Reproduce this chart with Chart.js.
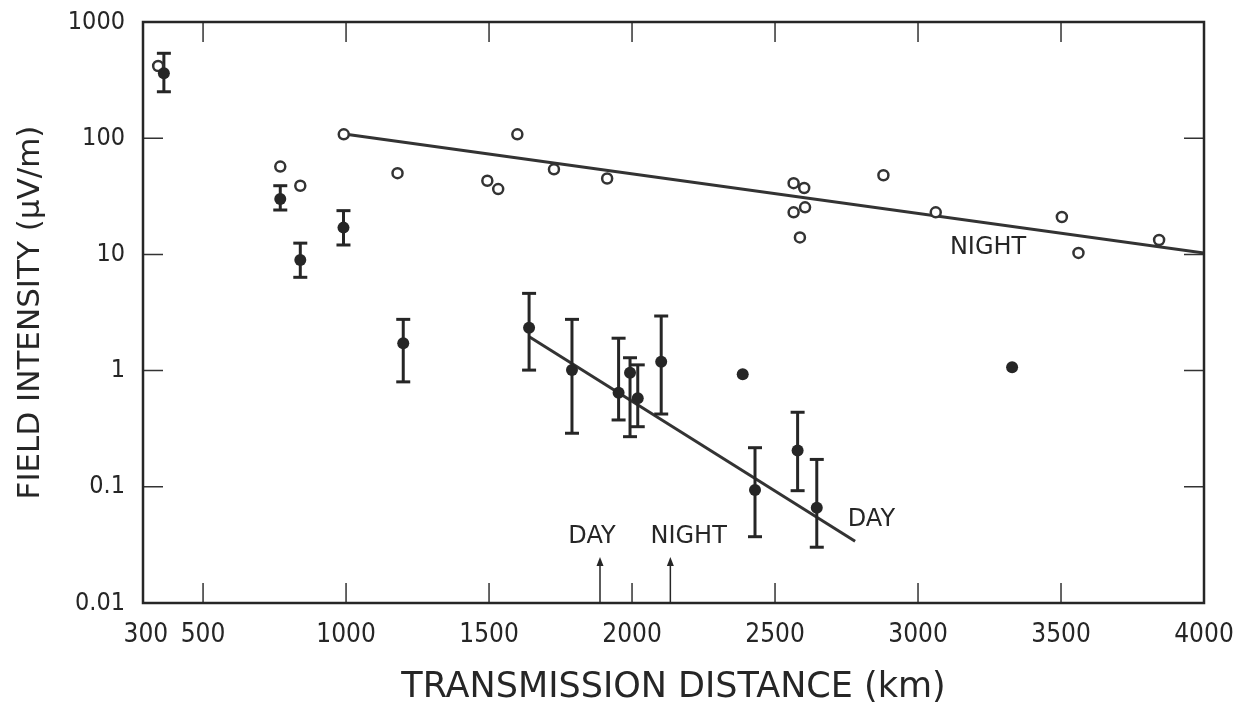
<!DOCTYPE html>
<html>
<head>
<meta charset="utf-8">
<script src="https://cdn.jsdelivr.net/npm/chart.js@4.4.0/dist/chart.umd.min.js"></script>
<style>
  html, body { margin: 0; padding: 0; background: #fff; }
  #wrap { width: 1245px; height: 720px; }
</style>
</head>
<body>
<div id="wrap"><canvas id="chart" width="1245" height="720"></canvas></div>
<script>
// open circles (night readings)
const nightDist = [343, 770, 840, 992, 1180, 1494, 1532, 1599, 1727, 1913, 2565, 2602, 2565, 2605, 2587, 2879, 3062, 3503, 3561, 3843];
const nightField = [418, 57, 39, 108, 50, 43, 36.5, 108, 54, 45, 41, 37.3, 23, 25.4, 14, 48, 23, 21, 10.3, 13.3];

// filled circles (day readings) with error bar limits
const dayDist = [363, 770, 840, 991, 1200, 1640, 1790, 1953, 1993, 2020, 2102, 2387, 2430, 2579, 2646, 3329];
const dayField = [362, 30, 8.95, 17, 1.72, 2.34, 1.01, 0.646, 0.96, 0.578, 1.19, 0.93, 0.0937, 0.205, 0.0661, 1.07];
const dayLow = [251, 24.1, 6.35, 12.05, 0.80, 1.01, 0.289, 0.376, 0.27, 0.329, 0.423, null, 0.0372, 0.0926, 0.0302, null];
const dayHigh = [538, 39, 12.5, 23.8, 2.76, 4.62, 2.76, 1.90, 1.29, 1.12, 2.95, null, 0.217, 0.438, 0.172, null];

// fitted lines
const nightFitDist = [1000, 4000];
const nightFitField = [108, 10.3];
const dayFitDist = [1642, 2780];
const dayFitField = [1.95, 0.034];

// axis ticks
const xTicks = [300, 500, 1000, 1500, 2000, 2500, 3000, 3500, 4000];
const xTickLabels = ['300', '500', '1000', '1500', '2000', '2500', '3000', '3500', '4000'];
const yTicks = [0.01, 0.1, 1, 10, 100, 1000];
const yTickLabels = ['0.01', '0.1', '1', '10', '100', '1000'];

// text labels on the plot
const noteTexts = ['NIGHT', 'DAY', 'DAY', 'NIGHT'];
const noteDist = [3245, 2837, 1860, 2198];
const noteField = [11.4, 0.0518, 0.0372, 0.0372];

// day/night transition arrows
const arrowDist = [1888, 2134];
const arrowTip = 0.0249;

const tickFont = "'Liberation Sans Narrow', 'DejaVu Sans Condensed', sans-serif";
const textFont = "'DejaVu Sans', sans-serif";
const ink = '#262626';

function toPoints(xs, ys) {
    return xs.map((x, i) => ({ x: x, y: ys[i] }));
}

const errorBars = dayDist.map((d, i) => {
    if (dayLow[i] == null) return null;
    return {
        data: [{ x: d, y: dayLow[i] }, { x: d, y: dayHigh[i] }],
        showLine: true,
        borderColor: ink,
        borderWidth: 3,
        pointStyle: 'line',
        pointRadius: 7,
        pointBorderWidth: 3,
        pointBorderColor: ink
    };
}).filter(Boolean);

// frame + inward ticks on all four sides, plus the text notes
const decorations = {
    id: 'decorations',
    afterDatasetsDraw(chart) {
        const { ctx, chartArea: a, scales: { x, y } } = chart;
        ctx.save();
        ctx.strokeStyle = '#333';
        ctx.lineWidth = 1.5;
        ctx.beginPath();
        xTicks.forEach(v => {
            if (v === xTicks[0] || v === xTicks[xTicks.length - 1]) return;
            const px = x.getPixelForValue(v);
            ctx.moveTo(px, a.bottom); ctx.lineTo(px, a.bottom - 20);
            ctx.moveTo(px, a.top); ctx.lineTo(px, a.top + 20);
        });
        yTicks.forEach(v => {
            if (v === yTicks[0] || v === yTicks[yTicks.length - 1]) return;
            const py = y.getPixelForValue(v);
            ctx.moveTo(a.left, py); ctx.lineTo(a.left + 20, py);
            ctx.moveTo(a.right, py); ctx.lineTo(a.right - 20, py);
        });
        ctx.stroke();

        ctx.lineWidth = 2.5;
        ctx.strokeStyle = ink;
        ctx.strokeRect(a.left, a.top, a.right - a.left, a.bottom - a.top);

        // arrows
        ctx.lineWidth = 1.5;
        ctx.fillStyle = ink;
        arrowDist.forEach(d => {
            const px = x.getPixelForValue(d);
            const tip = y.getPixelForValue(arrowTip);
            ctx.beginPath();
            ctx.moveTo(px, a.bottom);
            ctx.lineTo(px, tip + 4);
            ctx.stroke();
            ctx.beginPath();
            ctx.moveTo(px, tip);
            ctx.lineTo(px - 3.5, tip + 9);
            ctx.lineTo(px + 3.5, tip + 9);
            ctx.closePath();
            ctx.fill();
        });

        ctx.font = '24px ' + textFont;
        ctx.textAlign = 'center';
        ctx.textBaseline = 'middle';
        noteTexts.forEach((t, i) => {
            ctx.fillText(t, x.getPixelForValue(noteDist[i]), y.getPixelForValue(noteField[i]));
        });
        ctx.restore();
    }
};

const ctx = document.getElementById('chart').getContext('2d');
const chart = new Chart(ctx, {
    type: 'scatter',
    data: {
        datasets: [
            {
                data: toPoints(dayDist, dayField),
                backgroundColor: ink,
                borderColor: ink,
                pointRadius: 6,
                pointBorderWidth: 0
            },
            {
                data: toPoints(nightDist, nightField),
                backgroundColor: '#fff',
                borderColor: '#333',
                pointRadius: 5,
                pointBorderWidth: 2.5
            },
            ...errorBars,
            {
                data: toPoints(nightFitDist, nightFitField),
                showLine: true,
                borderColor: '#333',
                borderWidth: 3,
                pointRadius: 0
            },
            {
                data: toPoints(dayFitDist, dayFitField),
                showLine: true,
                borderColor: '#333',
                borderWidth: 3,
                pointRadius: 0
            }
        ]
    },
    options: {
        responsive: false,
        animation: false,
        layout: { padding: { left: 0, top: 22, right: 41, bottom: 0 } },
        plugins: {
            legend: { display: false },
            tooltip: { enabled: false }
        },
        scales: {
            x: {
                type: 'linear',
                min: 290,
                max: 4000,
                grid: { display: false, drawTicks: false },
                border: { display: false },
                afterBuildTicks: scale => { scale.ticks = xTicks.map(v => ({ value: v })); },
                afterFit: scale => {
                    scale.height = 117;
                    scale.paddingLeft = 0;
                    scale.paddingRight = 0;
                },
                ticks: {
                    autoSkip: false,
                    maxRotation: 0,
                    padding: 17,
                    color: ink,
                    font: { family: tickFont, size: 26 },
                    callback: (v) => xTickLabels[xTicks.indexOf(v)]
                },
                title: {
                    display: true,
                    text: 'TRANSMISSION DISTANCE (km)',
                    color: ink,
                    font: { family: textFont, size: 35 },
                    padding: { top: 0, bottom: 11 }
                }
            },
            y: {
                type: 'logarithmic',
                min: 0.01,
                max: 1000,
                grid: { display: false, drawTicks: false },
                border: { display: false },
                afterBuildTicks: scale => { scale.ticks = yTicks.map(v => ({ value: v })); },
                afterFit: scale => {
                    scale.width = 143;
                    scale.paddingTop = 0;
                    scale.paddingBottom = 0;
                },
                ticks: {
                    autoSkip: false,
                    padding: 18,
                    color: ink,
                    font: { family: tickFont, size: 25 },
                    callback: (v) => yTickLabels[yTicks.indexOf(v)]
                },
                title: {
                    display: true,
                    text: 'FIELD INTENSITY (\u03BCV/m)',
                    color: ink,
                    font: { family: textFont, size: 31 },
                    padding: { top: 12, bottom: 0 }
                }
            }
        }
    },
    plugins: [decorations]
});
</script>
</body>
</html>
